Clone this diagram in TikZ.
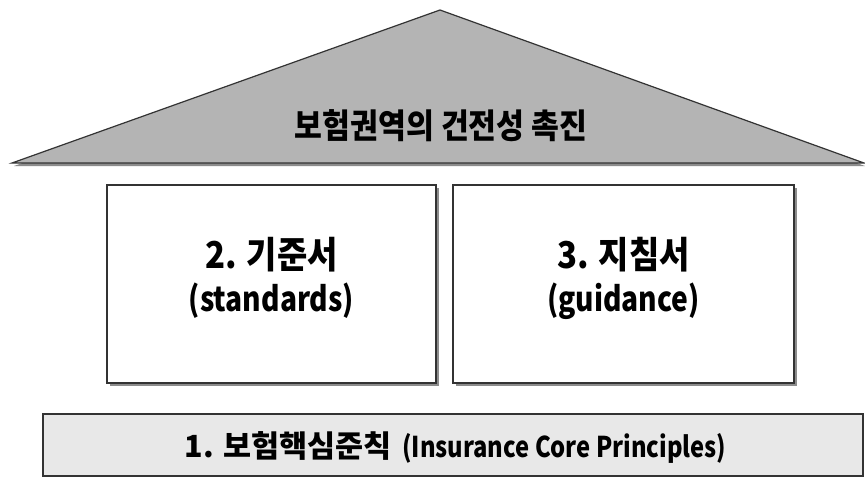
\documentclass[tikz,border=0pt]{standalone}
\usepackage{fontspec}
\newfontfamily\krA{Noto Sans CJK KR}[FakeStretch=0.89]
\newfontfamily\krB{Noto Sans CJK KR}[FakeStretch=0.83]
\newfontfamily\krC{Noto Sans CJK KR}
\usetikzlibrary{shadows}
\definecolor{roofgray}{HTML}{B4B4B4}
\definecolor{edgegray}{HTML}{333333}
\definecolor{shadowgray}{HTML}{8C8C8C}
\definecolor{basegray}{HTML}{E8E8E8}
\newcommand{\hanline}[1]{{\krA\bfseries\fontsize{37}{40}\selectfont #1}}
\newcommand{\latline}[1]{{\krB\bfseries\fontsize{34}{40}\selectfont #1}}
\tikzset{
  pillar/.style={draw=edgegray, line width=1.2pt, fill=white, inner sep=0pt,
    drop shadow={shadow xshift=3pt, shadow yshift=-3pt, fill=shadowgray, opacity=1},
    align=center},
  basebox/.style={draw=edgegray, line width=1.2pt, fill=basegray, inner sep=0pt},
  rooftext/.style={font=\krA\bfseries\fontsize{34}{38}\selectfont}
}
\begin{document}
\begin{tikzpicture}[x=1pt,y=-1pt]
\useasboundingbox[fill=white] (0,0) rectangle (865,477);
% roof
\fill[shadowgray] (14,166) -- (442,15) -- (865,166) -- cycle;
\filldraw[fill=roofgray, draw=edgegray, line width=1.2pt] (12,163) -- (440,10) -- (864,163) -- cycle;
\node[rooftext] (roof) at (441,126) {보험권역의 건전성 촉진};
% pillars
\node[pillar, minimum width=329pt, minimum height=198pt] (std) at (271.5,284) {};
\node[pillar, minimum width=341pt, minimum height=198pt] (gui) at (623.5,284) {};
\node (stdA) at (271.5,255) {\hanline{2. 기준서}};
\node (stdB) at (271.5,301) {\latline{(standards)}};
\node (guiA) at (623.5,255) {\hanline{3. 지침서}};
\node (guiB) at (623.5,301) {\latline{(guidance)}};
% base
\node[basebox, minimum width=820pt, minimum height=62pt] (icp) at (453,445) {};
\node[anchor=base east, inner sep=0pt] (icpA) at (392,457) {\krC\bfseries\fontsize{30.5}{34}\selectfont 1. 보험핵심준칙};
\node[anchor=base west, inner sep=0pt] (icpB) at (402,457) {\krB\bfseries\fontsize{28.6}{32}\selectfont (Insurance Core Principles)};
\end{tikzpicture}
\end{document}
